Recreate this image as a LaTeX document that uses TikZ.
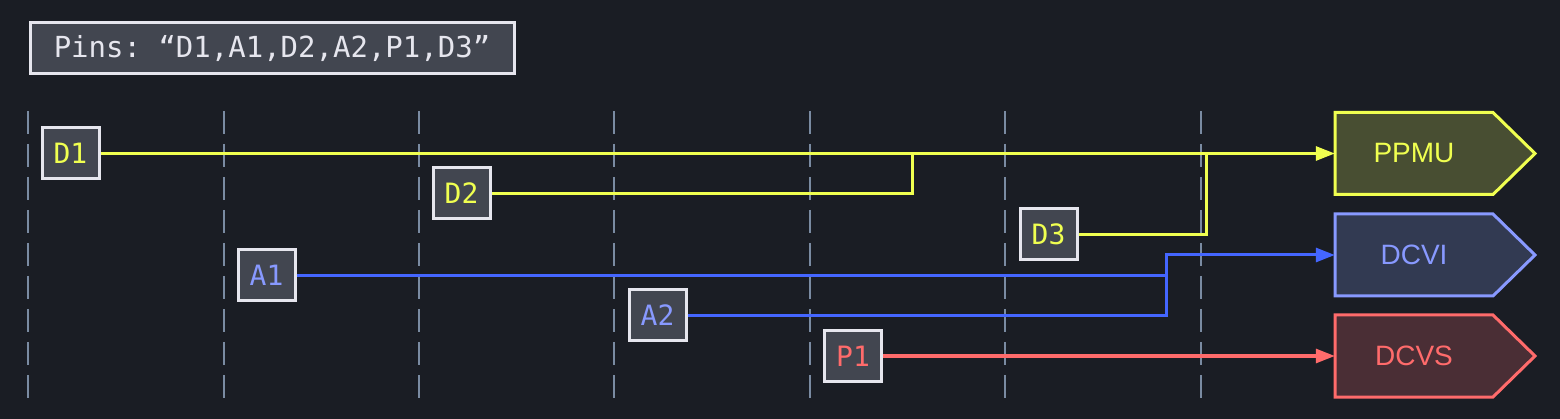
\documentclass[tikz,border=0pt]{standalone}
\usepackage{fontspec}
\setmainfont{Liberation Sans}
\setmonofont{DejaVu Sans Mono}
\usetikzlibrary{arrows.meta}
\definecolor{bg}{HTML}{1A1D24}
\definecolor{boxfill}{HTML}{424650}
\definecolor{boxline}{HTML}{E6E6EE}
\definecolor{grid}{HTML}{7A8BA2}
\definecolor{yel}{HTML}{F0FF50}
\definecolor{blu}{HTML}{4466FF}
\definecolor{lblu}{HTML}{8899FF}
\definecolor{red}{HTML}{FF6B6B}
\definecolor{yfill}{HTML}{484E32}
\definecolor{bfill}{HTML}{323A52}
\definecolor{rfill}{HTML}{4A2E35}
\tikzset{
  pinbox/.style={draw=boxline, fill=boxfill, line width=3pt, minimum width=57pt, minimum height=51pt, inner sep=0pt, font=\ttfamily\fontsize{28}{28}\selectfont},
  gridline/.style={draw=grid, line width=2.6pt, dash pattern=on 23pt off 10pt},
  wire/.style={line width=3pt},
  tgt/.style={minimum width=158pt, minimum height=82pt, inner sep=0pt, font=\fontsize{28}{28}\selectfont},
  tip/.style={-{Triangle[length=19pt,width=14pt]}}
}
\begin{document}
\begin{tikzpicture}[x=1pt,y=-1pt]
\fill[bg] (0,0) rectangle (1560,419);
\useasboundingbox (0,0) rectangle (1560,419);
% title
\node[draw=boxline, fill=boxfill, line width=3pt, minimum width=484pt, minimum height=51pt, inner sep=0pt, text=boxline, font=\ttfamily\fontsize{29}{29}\selectfont] (title) at (272,48.5) {Pins: “D1,A1,D2,A2,P1,D3”};
% grid
\foreach \x in {28,224,419,614,810,1005,1201}
  \draw[gridline] (\x,111) -- (\x,398);
% targets
\foreach \n/\y/\c/\f/\t in {PPMU/153.5/yel/yfill/PPMU, DCVI/255/lblu/bfill/DCVI, DCVS/356/red/rfill/DCVS}{
  \filldraw[draw=\c, fill=\f, line width=3pt, line join=miter]
    (1335,\y-41) -- (1493,\y-41) -- (1535,\y) -- (1493,\y+41) -- (1335,\y+41) -- cycle;
  \node[tgt, text=\c] (\n) at (1414,\y) {\t};
}
% pins
\node[pinbox, text=yel]  (D1) at (70.5,153.5) {D1};
\node[pinbox, text=lblu] (A1) at (266.5,275.5) {A1};
\node[pinbox, text=yel]  (D2) at (461.5,193.5) {D2};
\node[pinbox, text=lblu] (A2) at (657.5,315.5) {A2};
\node[pinbox, text=red]  (P1) at (853,356) {P1};
\node[pinbox, text=yel]  (D3) at (1048.5,234.5) {D3};
% junction points
\coordinate (j1) at (912.5,153.5);
\coordinate (j3) at (1206.5,153.5);
\coordinate (ja) at (1166.5,255);
% wires
\draw[wire, yel, tip] (D1.east) -- (PPMU.west);
\draw[wire, yel] (D2.east) -| (j1);
\draw[wire, yel] (D3.east) -| (j3);
\draw[wire, blu] (A1.east) -- (A1.east -| ja);
\draw[wire, blu, tip] (A2.east) -| (ja) -- (DCVI.west);
\draw[wire, red, tip] (P1.east) -- (DCVS.west);
\end{tikzpicture}
\end{document}
